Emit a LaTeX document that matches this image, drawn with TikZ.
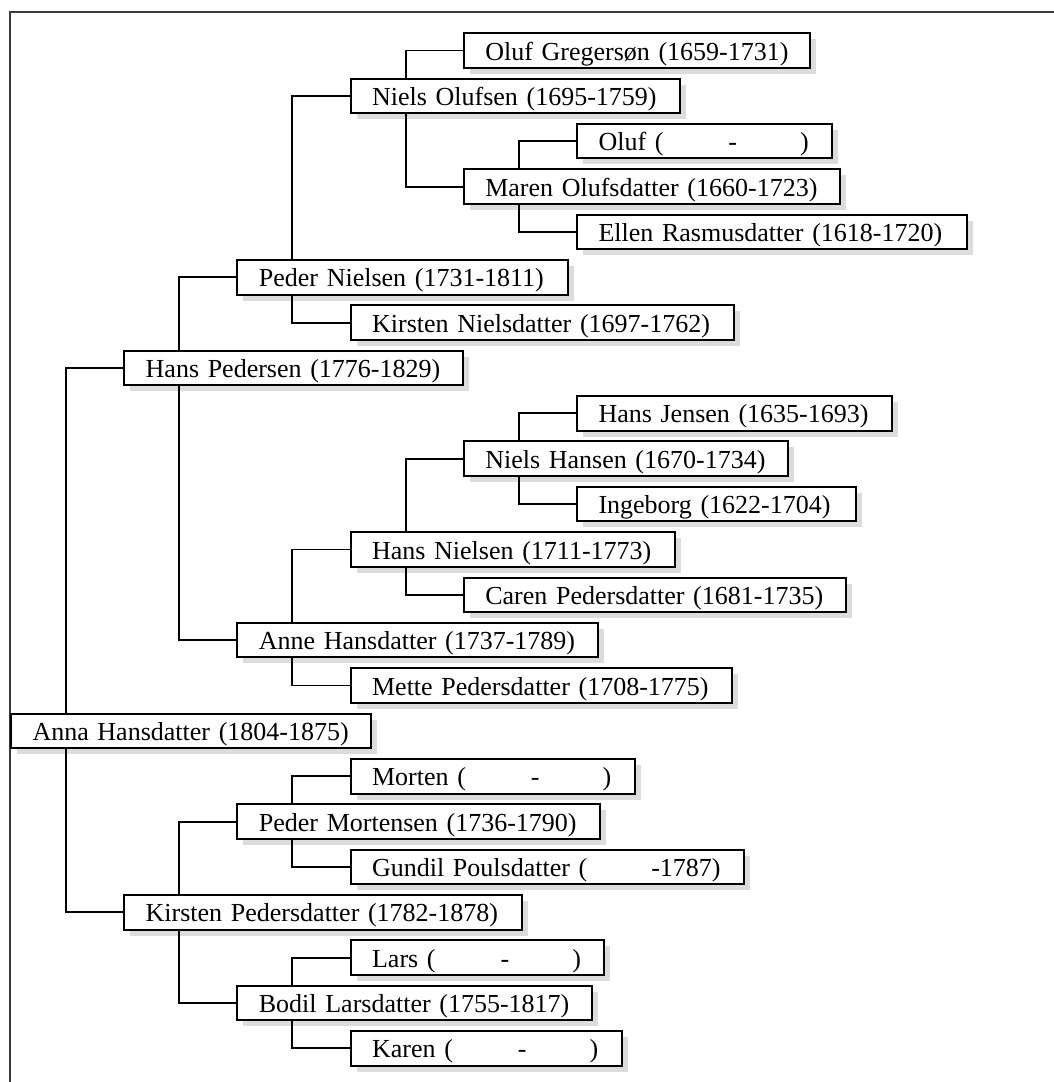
\documentclass[tikz,border=0pt]{standalone}
\usepackage{fontspec}
\setmainfont{Liberation Serif}
\usetikzlibrary{shadows}
\definecolor{framecol}{HTML}{3A3A3A}
\definecolor{shadowcol}{HTML}{DCDCDC}
\tikzset{
  person/.style={draw=black, line width=2pt, fill=white, anchor=west,
    minimum height=34.5pt, inner ysep=0pt, inner xsep=21.5pt,
    text width=#1, align=left, text height=22pt, text depth=3pt,
    font=\fontsize{26}{30}\selectfont,
    general shadow={fill=shadowcol, shadow xshift=6pt, shadow yshift=-6pt}},
  link/.style={line width=1.9pt, black},
  framestyle/.style={line width=2.4pt, framecol},
}
\begin{document}
\begin{tikzpicture}[x=1pt,y=-1pt]
\useasboundingbox (0,0) rectangle (1053,1082);
\draw[framestyle] (10,1084) -- (10,12) -- (1055,12);

\node[person=303] (n0) at (462.8,50.5) {\mbox{Oluf Gregersøn (1659-1731)}};
\node[person=286] (n1) at (349.6,95.9) {\mbox{Niels Olufsen (1695-1759)}};
\node[person=212] (n2) at (576,141.2) {\mbox{Oluf (\hspace{65pt}-\hspace{63pt})}};
\node[person=333] (n3) at (462.8,186.6) {\mbox{Maren Olufsdatter (1660-1723)}};
\node[person=347] (n4) at (576,231.9) {\mbox{Ellen Rasmusdatter (1618-1720)}};
\node[person=288] (n5) at (236.4,277.3) {\mbox{Peder Nielsen (1731-1811)}};
\node[person=340] (n6) at (349.6,322.7) {\mbox{Kirsten Nielsdatter (1697-1762)}};
\node[person=296] (n7) at (123.2,368) {\mbox{Hans Pedersen (1776-1829)}};
\node[person=272] (n8) at (576,413.4) {\mbox{Hans Jensen (1635-1693)}};
\node[person=281] (n9) at (462.8,458.7) {\mbox{Niels Hansen (1670-1734)}};
\node[person=236] (n10) at (576,504.1) {\mbox{Ingeborg (1622-1704)}};
\node[person=281] (n11) at (349.6,549.5) {\mbox{Hans Nielsen (1711-1773)}};
\node[person=339] (n12) at (462.8,594.8) {\mbox{Caren Pedersdatter (1681-1735)}};
\node[person=318] (n13) at (236.4,640.2) {\mbox{Anne Hansdatter (1737-1789)}};
\node[person=338] (n14) at (349.6,685.5) {\mbox{Mette Pedersdatter (1708-1775)}};
\node[person=317] (n15) at (10,730.9) {\mbox{Anna Hansdatter (1804-1875)}};
\node[person=241] (n16) at (349.6,776.3) {\mbox{Morten (\hspace{65pt}-\hspace{63pt})}};
\node[person=320] (n17) at (236.4,821.6) {\mbox{Peder Mortensen (1736-1790)}};
\node[person=350] (n18) at (349.6,867) {\mbox{Gundil Poulsdatter (\hspace{64pt}-1787)}};
\node[person=355] (n19) at (123.2,912.3) {\mbox{Kirsten Pedersdatter (1782-1878)}};
\node[person=210] (n20) at (349.6,957.7) {\mbox{Lars (\hspace{65pt}-\hspace{63pt})}};
\node[person=312] (n21) at (236.4,1003.1) {\mbox{Bodil Larsdatter (1755-1817)}};
\node[person=228] (n22) at (349.6,1048.4) {\mbox{Karen (\hspace{65pt}-\hspace{63pt})}};

\draw[link] (n0.west) -| ([xshift=56pt]n1.north west);
\draw[link] (n3.west) -| ([xshift=56pt]n1.south west);
\draw[link] (n2.west) -| ([xshift=56pt]n3.north west);
\draw[link] (n4.west) -| ([xshift=56pt]n3.south west);
\draw[link] (n1.west) -| ([xshift=56pt]n5.north west);
\draw[link] (n6.west) -| ([xshift=56pt]n5.south west);
\draw[link] (n5.west) -| ([xshift=56pt]n7.north west);
\draw[link] (n13.west) -| ([xshift=56pt]n7.south west);
\draw[link] (n8.west) -| ([xshift=56pt]n9.north west);
\draw[link] (n10.west) -| ([xshift=56pt]n9.south west);
\draw[link] (n9.west) -| ([xshift=56pt]n11.north west);
\draw[link] (n12.west) -| ([xshift=56pt]n11.south west);
\draw[link] (n11.west) -| ([xshift=56pt]n13.north west);
\draw[link] (n14.west) -| ([xshift=56pt]n13.south west);
\draw[link] (n7.west) -| ([xshift=56pt]n15.north west);
\draw[link] (n19.west) -| ([xshift=56pt]n15.south west);
\draw[link] (n16.west) -| ([xshift=56pt]n17.north west);
\draw[link] (n18.west) -| ([xshift=56pt]n17.south west);
\draw[link] (n17.west) -| ([xshift=56pt]n19.north west);
\draw[link] (n21.west) -| ([xshift=56pt]n19.south west);
\draw[link] (n20.west) -| ([xshift=56pt]n21.north west);
\draw[link] (n22.west) -| ([xshift=56pt]n21.south west);
\end{tikzpicture}
\end{document}
